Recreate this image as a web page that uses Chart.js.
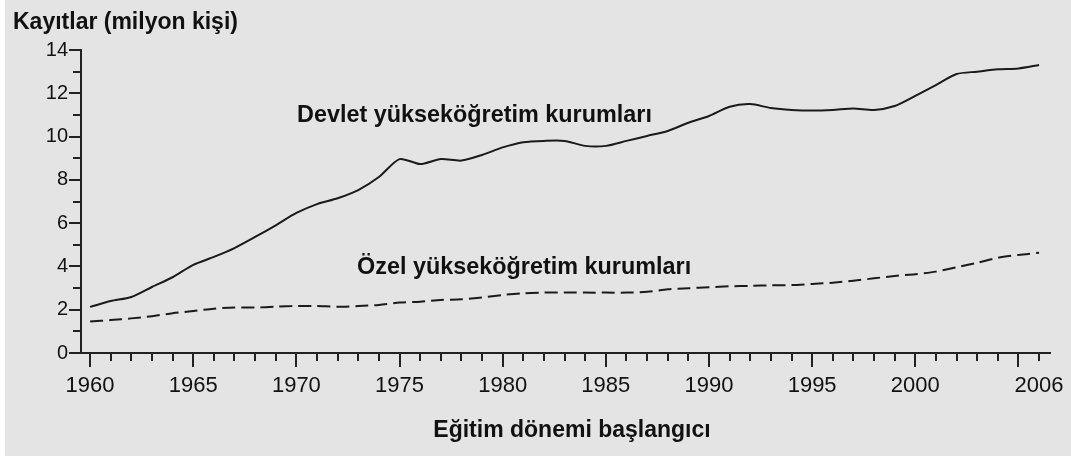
<!DOCTYPE html>
<html>
<head>
<meta charset="utf-8">
<script src="https://cdn.jsdelivr.net/npm/chart.js@4.4.1/dist/chart.umd.min.js"></script>
<style>
html,body{margin:0;padding:0;background:#fff;}
#wrap{position:relative;width:1071px;height:456px;}
canvas{display:block;}
</style>
</head>
<body>
<div id="wrap"><canvas id="c" width="1071" height="456"></canvas></div>
<script>
// ---- Data ----
const years = [1960,1961,1962,1963,1964,1965,1966,1967,1968,1969,
               1970,1971,1972,1973,1974,1975,1976,1977,1978,1979,
               1980,1981,1982,1983,1984,1985,1986,1987,1988,1989,
               1990,1991,1992,1993,1994,1995,1996,1997,1998,1999,
               2000,2001,2002,2003,2004,2005,2006];
const devlet = [2.13,2.40,2.59,3.05,3.50,4.07,4.44,4.85,5.36,5.90,
                6.47,6.88,7.15,7.53,8.13,8.96,8.73,8.96,8.89,9.15,
                9.50,9.74,9.80,9.80,9.57,9.57,9.80,10.03,10.26,10.64,
                10.95,11.38,11.50,11.32,11.23,11.20,11.23,11.30,11.23,11.41,
                11.88,12.38,12.89,13.00,13.11,13.15,13.31];
const ozel = [1.45,1.52,1.60,1.70,1.84,1.94,2.05,2.10,2.10,2.14,
              2.17,2.17,2.14,2.17,2.22,2.33,2.37,2.45,2.48,2.57,
              2.68,2.76,2.79,2.80,2.79,2.79,2.79,2.83,2.94,2.99,
              3.04,3.08,3.10,3.13,3.14,3.19,3.25,3.34,3.45,3.56,
              3.64,3.76,3.96,4.17,4.40,4.53,4.63];
const xTickLabels = [1960,1965,1970,1975,1980,1985,1990,1995,2000,2006];
const yTickValues = [0,2,4,6,8,10,12,14];
const seriesNames = ['Devlet yükseköğretim kurumları','Özel yükseköğretim kurumları'];
const yAxisTitle = 'Kayıtlar (milyon kişi)';
const xAxisTitle = 'Eğitim dönemi başlangıcı';

const FONT = "'Liberation Sans', Arial, Helvetica, sans-serif";
const INK = '#1a1a1a';

const decorPlugin = {
  id: 'decor',
  beforeDraw(chart) {
    const ctx = chart.ctx;
    ctx.save();
    ctx.fillStyle = '#ffffff';
    ctx.fillRect(0, 0, chart.width, chart.height);
    ctx.fillStyle = '#e4e4e4';
    ctx.fillRect(5, 0, chart.width - 5, chart.height);
    ctx.restore();
  },
  afterDraw(chart) {
    const ctx = chart.ctx;
    const xs = chart.scales.x, ys = chart.scales.y;
    const left = chart.chartArea.left, bottom = chart.chartArea.bottom;
    ctx.save();
    ctx.strokeStyle = '#222';
    ctx.lineWidth = 2;
    ctx.beginPath();
    // y ticks: major at even, minor at odd
    for (let v = ys.min; v <= ys.max; v++) {
      const y = Math.round(ys.getPixelForValue(v));
      const len = (v % 2 === 0) ? 12 : 8;
      ctx.moveTo(left, y);
      ctx.lineTo(left - len, y);
    }
    // x ticks: every year, major every 5
    for (let i = 0; i < years.length; i++) {
      const yr = years[i];
      const x = Math.round(xs.getPixelForValue(yr));
      const len = (yr % 5 === 0) ? 14 : 8;
      ctx.moveTo(x, bottom);
      ctx.lineTo(x, bottom + len);
    }
    ctx.stroke();

    ctx.fillStyle = '#111';
    ctx.textBaseline = 'alphabetic';
    // axis titles
    ctx.font = 'bold 23px ' + FONT;
    ctx.textAlign = 'left';
    ctx.fillText(yAxisTitle, 13, 28.5);
    ctx.textAlign = 'center';
    ctx.fillText(xAxisTitle, 572, 437);
    // series annotations anchored in data coordinates
    ctx.font = 'bold 23.4px ' + FONT;
    ctx.textAlign = 'left';
    ctx.fillText(seriesNames[0], xs.getPixelForValue(1970.03), ys.getPixelForValue(10.67));
    ctx.fillText(seriesNames[1], xs.getPixelForValue(1972.94), ys.getPixelForValue(3.64));
    ctx.restore();
  }
};

new Chart(document.getElementById('c'), {
  type: 'line',
  data: {
    datasets: [
      {
        label: seriesNames[0],
        data: years.map((yr, i) => ({x: yr, y: devlet[i]})),
        borderColor: INK,
        borderWidth: 2,
        pointRadius: 0,
        tension: 0.25,
        fill: false
      },
      {
        label: seriesNames[1],
        data: years.map((yr, i) => ({x: yr, y: ozel[i]})),
        borderColor: INK,
        borderWidth: 2,
        borderDash: [13, 6],
        pointRadius: 0,
        tension: 0.25,
        fill: false
      }
    ]
  },
  options: {
    responsive: false,
    animation: false,
    devicePixelRatio: 1,
    layout: {padding: {left: 0, top: 50, right: 21, bottom: 0}},
    plugins: {legend: {display: false}, tooltip: {enabled: false}, title: {display: false}},
    scales: {
      x: {
        type: 'linear',
        min: 1959.56,
        max: 2006.53,
        border: {display: true, color: '#222', width: 2},
        grid: {display: false, drawTicks: false},
        ticks: {
          font: {family: FONT, size: 22},
          color: '#111',
          padding: 20,
          maxRotation: 0,
          autoSkip: false,
          callback: v => String(v)
        },
        afterBuildTicks: s => { s.ticks = xTickLabels.map(v => ({value: v})); },
        afterFit: s => { s.height = 103; s.paddingLeft = 0; s.paddingRight = 0; }
      },
      y: {
        type: 'linear',
        min: 0,
        max: 14,
        border: {display: true, color: '#222', width: 2},
        grid: {display: false, drawTicks: false},
        ticks: {
          font: {family: FONT, size: 20},
          color: '#111',
          padding: 13,
          callback: v => String(v)
        },
        afterBuildTicks: s => { s.ticks = yTickValues.map(v => ({value: v})); },
        afterFit: s => { s.width = 81; s.paddingTop = 0; s.paddingBottom = 0; }
      }
    }
  },
  plugins: [decorPlugin]
});
</script>
</body>
</html>
